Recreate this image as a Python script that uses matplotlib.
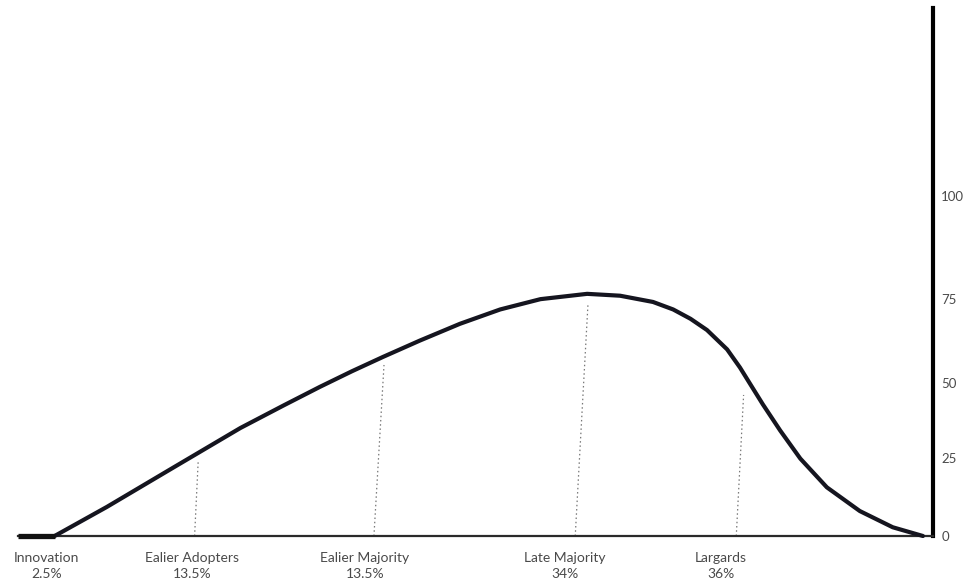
import numpy as np
import matplotlib.pyplot as plt

# adoption curve (x: 0..100 along the axis, y: axis units)
curve_x = [4.0, 9.7, 16.9, 24.3, 29.0, 33.0, 36.5, 39.9, 43.9, 48.3, 52.7, 57.1,
           62.2, 65.8, 69.4, 71.6, 73.5, 75.3, 77.5, 78.9, 80.0, 81.4, 83.3, 85.5,
           88.4, 92.0, 95.6, 98.9]
curve_y = [0.0, 9.3, 21.8, 34.6, 41.8, 47.8, 52.8, 57.4, 62.6, 68.0, 72.6, 75.9,
           77.6, 77.0, 75.0, 72.6, 69.6, 66.0, 59.8, 54.0, 48.8, 42.2, 33.8, 24.8,
           15.6, 8.0, 2.8, 0.0]

# dotted drop lines: (x at axis, x at curve, height at curve)
drop_x0 = [19.3, 38.9, 60.9, 78.5]
drop_x1 = [19.7, 40.0, 62.3, 79.3]
drop_y1 = [24.4, 54.8, 74.7, 45.2]

groups = ['Innovation', 'Ealier Adopters', 'Ealier Majority', 'Late Majority', 'Largards']
shares = ['2.5%', '13.5%', '13.5%', '34%', '36%']
label_x = [3.1, 19.0, 37.9, 59.8, 76.8]

ytick_pos = [0, 25, 49, 76, 109]
ytick_lab = ['0', '25', '50', '75', '100']

plt.rcParams['font.family'] = ['Lato', 'DejaVu Sans']

fig = plt.figure(figsize=(9.63, 5.83), dpi=100)
ax = fig.add_axes([18/963, 47/583, 915/963, 528/583])
ax.set_xlim(0, 100)
ax.set_ylim(0, 169.2)

ax.plot(curve_x, curve_y, color='#15151f', lw=3.0, solid_joinstyle='round',
        solid_capstyle='round', clip_on=False, zorder=3)
ax.plot([0, curve_x[0]], [0, 0], color='#111111', lw=3.8, solid_capstyle='butt',
        clip_on=False, zorder=4)

for a, b, h in zip(drop_x0, drop_x1, drop_y1):
    ax.plot([a, b], [0, h], color='#777777', lw=0.9, ls=(0, (1.2, 2.2)), zorder=2)

for x, g, s in zip(label_x, groups, shares):
    ax.annotate(g, (x, 0), xytext=(0, -16), textcoords='offset points',
                ha='center', va='center', fontsize=10, color='#4a4a4a',
                annotation_clip=False)
    ax.annotate(s, (x, 0), xytext=(0, -27.5), textcoords='offset points',
                ha='center', va='center', fontsize=10, color='#4a4a4a',
                annotation_clip=False)

for side in ['left', 'top']:
    ax.spines[side].set_visible(False)
ax.spines['right'].set_linewidth(3.0)
ax.spines['right'].set_color('#000000')
ax.spines['bottom'].set_linewidth(1.6)
ax.spines['bottom'].set_color('#2a2a2a')

ax.set_xticks([])
ax.yaxis.tick_right()
ax.set_yticks(ytick_pos)
ax.set_yticklabels(ytick_lab)
ax.tick_params(axis='y', length=0, pad=6, labelsize=9.5, labelcolor='#4a4a4a')

fig.savefig('out.png', dpi=100)
